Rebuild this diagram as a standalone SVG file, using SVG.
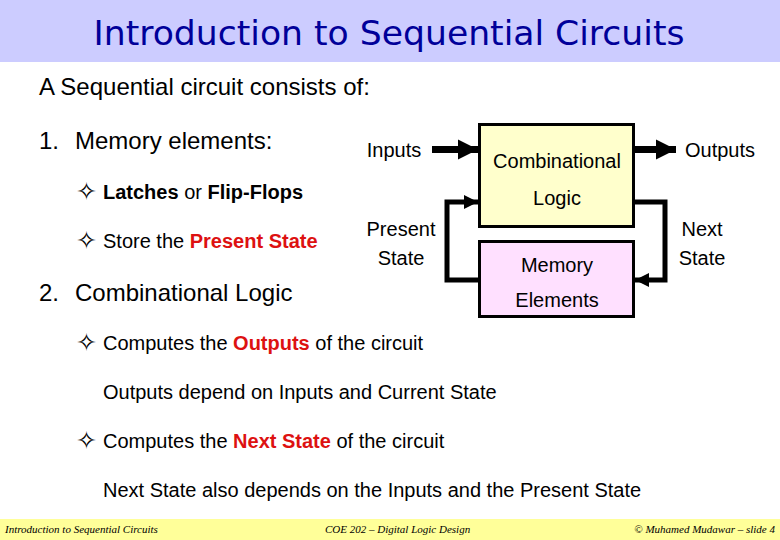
<svg xmlns="http://www.w3.org/2000/svg" width="780" height="540" viewBox="0 0 780 540">
<defs>
<style>
.t{font-family:"Liberation Sans",Arial,sans-serif;fill:#000}
.body{font-size:24px}
.sub{font-size:20px}
.b{font-weight:bold}
.red{fill:#DD1111;font-weight:bold}
.bul{font-family:"DejaVu Sans",sans-serif;font-size:25px;fill:#000}
.lbl{font-family:"Liberation Sans",Arial,sans-serif;font-size:20px;fill:#000;text-anchor:middle}
.foot{font-family:"Liberation Serif","Times New Roman",serif;font-style:italic;font-size:11px;fill:#000}
.box{stroke:#000;stroke-width:3}
.wire{fill:none;stroke:#000;stroke-width:5;stroke-linejoin:miter}
</style>
<marker id="bigHead" markerUnits="userSpaceOnUse" markerWidth="22" markerHeight="22" refX="20" refY="11" orient="auto">
<path d="M0,1 L20,11 L0,21 Z" fill="#000"/>
</marker>
<marker id="smallHead" markerUnits="userSpaceOnUse" markerWidth="16" markerHeight="16" refX="14" refY="8" orient="auto">
<path d="M0,1 L14,8 L0,15 Z" fill="#000"/>
</marker>
</defs>
<rect x="0" y="0" width="780" height="540" fill="#fff"/>
<rect x="0" y="0" width="780" height="62" fill="#CCCCFF"/>
<text x="389" y="45" text-anchor="middle" textLength="591" lengthAdjust="spacingAndGlyphs" style="font-family:'Comic Sans MS','DejaVu Sans',sans-serif;font-size:33px;fill:#000099">Introduction to Sequential Circuits</text>

<g id="text-left">
<text class="t body" x="39" y="95">A Sequential circuit consists of:</text>
<text class="t body" x="39" y="149">1.</text>
<text class="t body" x="75" y="149">Memory elements:</text>
<text class="bul" x="76" y="200">✧</text>
<text class="t sub" x="103" y="199"><tspan class="b">Latches</tspan> or <tspan class="b">Flip-Flops</tspan></text>
<text class="bul" x="76" y="249">✧</text>
<text class="t sub" x="103" y="248">Store the <tspan class="red">Present State</tspan></text>
<text class="t body" x="39" y="301">2.</text>
<text class="t body" x="75" y="301">Combinational Logic</text>
<text class="bul" x="76" y="351">✧</text>
<text class="t sub" x="103" y="350">Computes the <tspan class="red">Outputs</tspan> of the circuit</text>
<text class="t sub" x="103" y="399">Outputs depend on Inputs and Current State</text>
<text class="bul" x="76" y="449">✧</text>
<text class="t sub" x="103" y="448">Computes the <tspan class="red">Next State</tspan> of the circuit</text>
<text class="t sub" x="103" y="497">Next State also depends on the Inputs and the Present State</text>
</g>

<g id="connectors">
<line x1="432" y1="149.5" x2="478" y2="149.5" stroke="#000" stroke-width="7" marker-end="url(#bigHead)"/>
<line x1="635" y1="149.5" x2="676" y2="149.5" stroke="#000" stroke-width="7" marker-end="url(#bigHead)"/>
<polyline class="wire" points="478,280 447,280 447,202 478,202" marker-end="url(#smallHead)"/>
<polyline class="wire" points="635,202 665,202 665,280 635,280" marker-end="url(#smallHead)"/>
</g>

<g id="node-combinational">
<rect class="box" x="479.5" y="124.5" width="154" height="102" fill="#FFFFCC"/>
<text class="lbl" x="557" y="168">Combinational</text>
<text class="lbl" x="557" y="205">Logic</text>
</g>
<g id="node-memory">
<rect class="box" x="479.5" y="241.5" width="154" height="75" fill="#FFE0FF"/>
<text class="lbl" x="557" y="272">Memory</text>
<text class="lbl" x="557" y="307">Elements</text>
</g>

<g id="labels">
<text class="lbl" x="394" y="157">Inputs</text>
<text class="lbl" x="720" y="157">Outputs</text>
<text class="lbl" x="401" y="236">Present</text>
<text class="lbl" x="401" y="265">State</text>
<text class="lbl" x="702" y="236">Next</text>
<text class="lbl" x="702" y="265">State</text>
</g>

<rect x="0" y="519" width="780" height="21" fill="#FFFF99"/>
<text class="foot" x="5" y="533">Introduction to Sequential Circuits</text>
<text class="foot" x="325" y="533">COE 202 – Digital Logic Design</text>
<text class="foot" x="775" y="533" text-anchor="end">© Muhamed Mudawar – slide 4</text>
</svg>
